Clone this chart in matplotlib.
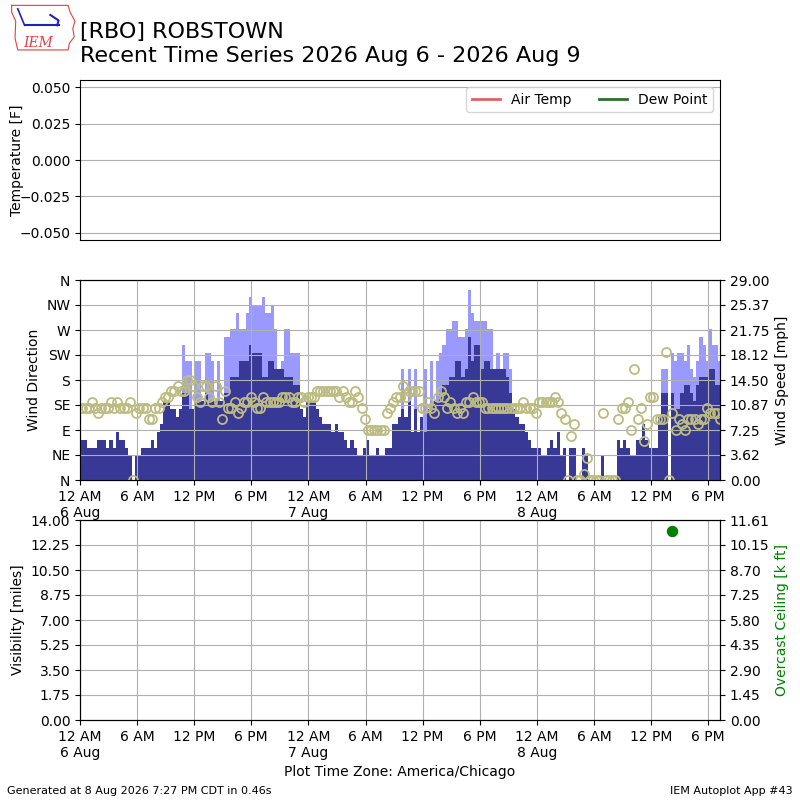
import matplotlib
matplotlib.use("Agg")
import matplotlib.pyplot as plt
import matplotlib.dates as mdates
from matplotlib.ticker import FuncFormatter
import numpy as np
import pandas as pd

# wind obs every 20 minutes, speeds in knots (None = no gust reported)
sknt = [5, 5, 4, 4, 4, 5, 5, 5, 4, 5, 4, 6, 5, 5, 4, 3, 0, 3, 3, 4, 4, 4, 5, 4, 6, 7, 10, 10, 9, 9, 8, 9, 11, 11,
        9, 9, 10, 10, 10, 11, 10, 10, 10, 10, 10, 11, 11, 13, 13, 13, 15, 15, 15, 17, 16, 16, 16, 13, 13, 15, 15, 14, 14, 14, 13, 13, 13, 12, 12,
        9, 8, 10, 10, 10, 9, 8, 7, 7, 7, 6, 7, 6, 6, 5, 4, 5, 4, 3, 3, 4, 5, 3, 3, 4, 3, 3, 4, 4, 7, 7, 8, 9, 8, 10,
        6, 9, 6, 8, 6, 9, 9, 10, 10, 11, 12, 12, 13, 13, 15, 15, 13, 14, 18, 15, 17, 17, 14, 15, 15, 14, 14, 14, 14, 14, 13, 11, 9, 8, 7,
        7, 6, 5, 4, 4, 4, 3, 3, 4, 5, 4, 6, 3, 4, 0, 4, 4, 0, 0, 4, 3, 0, 0, 0, 0, 3, 0, 0, 0, 0, 5, 4, 5, 4,
        3, 3, 5, 5, 7, 5, 4, 4, 4, 8, 11, 11, 0, 11, 9, 9, 11, 12, 12, 11, 10, 12, 13, 13, 13, 14, 14, 12, 12]

N = None
gust = [N] * 32 + [17, 15,
        15, N, 15, 15, N, 16, 16, 15, N, 15, N, 18, 18, 19, 19, 21, 19, 19, 21, 23, 22, 22, 22, 23, 21, 21, 22, 19, N, 15, 19, 19, 16, 16, 16,
        N, N, N, N, N, N, N, N, N, N, N, N, N, N, N, N, N, N, N, N, N, N, N, N, N, N, N, N, N, N, N, N, 14, N, 14,
        N, 14, N, N, 14, N, 15, N, 15, 16, 17, 19, 19, 20, 20, 18, 18, 19, 24, 21, 20, 20, 20, 20, 19, 19, N, 16, N, 16, 16, 14, N, N, N] + \
       [N] * 44 + [14, 14, N, 16, 15, 16, 16, 15, 17, 14, 13, 15, 18, 17, 15, 19, 17, 17, 15]

drct = [130, 130, 130, 140, 130, 120, 130, 130, 130, 140, 130, 140, 130, 130, 130, 140, 0, 120, 130, 130, 130, 110, 110, 130, 130, 140, 150, 150, 160, 160, 170, 160, 160, 180,
        180, 170, 150, 140, 170, 170, 150, 140, 170, 140, 110, 160, 130, 130, 140, 120, 130, 140, 140, 150, 140, 130, 130, 150, 140, 140, 140, 140, 140, 150, 150, 150, 140, 140, 150,
        150, 140, 150, 150, 150, 160, 160, 160, 160, 160, 160, 160, 150, 160, 150, 140, 140, 160, 150, 130, 110, 90, 90, 90, 90, 90, 90, 120, 130, 140, 150, 150, 170, 150, 160,
        160, 160, 160, 130, 130, 140, 130, 120, 150, 160, 150, 130, 140, 130, 120, 130, 120, 140, 140, 150, 140, 140, 140, 130, 130, 130, 130, 130, 130, 130, 130, 130, 130, 130, 130,
        140, 130, 130, 130, 120, 140, 140, 140, 140, 140, 150, 140, 120, 110, 0, 80, 100, 0, 0, 10, 40, 0, 0, 0, 0, 120, 0, 0, 0, 0, 110, 130, 130, 140,
        90, 200, 110, 130, 70, 100, 150, 150, 110, 110, 110, 230, 0, 120, 90, 110, 100, 90, 110, 110, 110, 100, 110, 110, 130, 120, 120, 120, 110]

valid = pd.date_range("2026-08-06 00:15", periods=len(sknt), freq="20min")

# overcast ceiling obs
ceil_valid = pd.to_datetime(["2026-08-08 14:15"])
ceil_kft = [11.0]

speed_ticks = ["0.00", "3.62", "7.25", "10.87", "14.50", "18.12", "21.75", "25.37", "29.00"]
ceil_ticks = ["0.00", "1.45", "2.90", "4.35", "5.80", "7.25", "8.70", "10.15", "11.61"]
dir_ticks = ["N", "NE", "E", "SE", "S", "SW", "W", "NW", "N"]

KT2MPH = 1.15078
x = mdates.date2num(valid.to_pydatetime())
smph = np.array(sknt, dtype=float) * KT2MPH
gmph = np.array([np.nan if g is None else g for g in gust], dtype=float) * KT2MPH
has_g = ~np.isnan(gmph)
width = 20 / 1440.

def fmt_time(val, pos):
    d = mdates.num2date(val)
    h = d.hour
    if h == 0:
        return "12 AM\n%d %s" % (d.day, d.strftime("%b"))
    if h == 12:
        return "12 PM"
    return "%d %s" % (h % 12, "AM" if h < 12 else "PM")

x0 = mdates.date2num(pd.Timestamp("2026-08-06 00:00").to_pydatetime())
x1 = x[-1]

fig = plt.figure(figsize=(8, 8), dpi=100)

# temperature panel (no data)
ax1 = fig.add_axes([0.1, 0.7, 0.8, 0.2])
ax1.plot([], [], color="#e0606a", lw=2, label="Air Temp")
ax1.plot([], [], color="#306e30", lw=2, label="Dew Point")
ax1.set_xlim(x0, x1)
ax1.set_ylim(-0.055, 0.055)
ax1.set_yticks([-0.05, -0.025, 0, 0.025, 0.05])
ax1.tick_params(axis="x", bottom=False, labelbottom=False)
ax1.grid(True, axis="y")
ax1.set_ylabel("Temperature [F]")
ax1.yaxis.set_label_coords(-0.088, 0.5)
ax1.legend(loc="upper right", ncol=2)

# wind panel
ax2 = fig.add_axes([0.1, 0.4, 0.8, 0.25])
ax2.bar(x[has_g], gmph[has_g], width=width, color="#9999ff", lw=0, antialiased=False)
ax2.bar(x, smph, width=width, color="#383896", lw=0, antialiased=False)
ax2.set_ylim(0, 29)
ax2.set_axisbelow(False)
ax2.grid(True)
axd = ax2.twinx()
axd.plot(x, drct, ls="none", marker="o", ms=6.5, mfc="none", mec="#bcbc80", mew=1.3)
axd.set_ylim(0, 360)
axd.set_yticks(np.arange(0, 361, 45))
axd.set_yticklabels(dir_ticks)
axd.yaxis.tick_left()
axd.yaxis.set_label_position("left")
axd.set_ylabel("Wind Direction")
ax2.set_yticks(np.linspace(0, 29, 9))
ax2.set_yticklabels(speed_ticks)
ax2.yaxis.tick_right()
ax2.yaxis.set_label_position("right")
ax2.set_ylabel("Wind Speed [mph]")
ax2.set_xlim(x0, x1)
ax2.xaxis.set_major_locator(mdates.HourLocator(byhour=[0, 6, 12, 18]))
ax2.xaxis.set_major_formatter(FuncFormatter(fmt_time))

# visibility / ceiling panel
ax3 = fig.add_axes([0.1, 0.1, 0.8, 0.25])
ax3.set_xlim(x0, x1)
ax3.set_ylim(0, 14)
ax3.set_yticks(np.arange(0, 14.01, 1.75))
ax3.set_yticklabels(["%.2f" % v for v in np.arange(0, 14.01, 1.75)])
ax3.set_ylabel("Visibility [miles]")
ax3.grid(True)
ax3.xaxis.set_major_locator(mdates.HourLocator(byhour=[0, 6, 12, 18]))
ax3.xaxis.set_major_formatter(FuncFormatter(fmt_time))
ax3.set_xlabel("Plot Time Zone: America/Chicago")
ax3b = ax3.twinx()
ax3b.scatter(mdates.date2num(ceil_valid.to_pydatetime()), ceil_kft, color="green", s=52, zorder=5)
ax3b.set_ylim(0, 11.61)
ax3b.set_yticks(np.linspace(0, 11.61, 9))
ax3b.set_yticklabels(ceil_ticks)
ax3b.set_ylabel("Overcast Ceiling [k ft]", color="green")
ax3b.set_xlim(x0, x1)

# title and footer
fig.text(0.1, 0.973, "[RBO] ROBSTOWN\nRecent Time Series 2026 Aug 6 - 2026 Aug 9",
         fontsize=16, va="top", ha="left", linespacing=1.25)
fig.text(0.009, 0.008, "Generated at 8 Aug 2026 7:27 PM CDT in 0.46s", fontsize=8)
fig.text(0.991, 0.008, "IEM Autoplot App #43", fontsize=8, ha="right")

# small IEM logo
logo = fig.add_axes([0.012, 0.935, 0.085, 0.06])
logo.set_xlim(0, 10)
logo.set_ylim(0, 7)
logo.axis("off")
logo.plot([0.3, 8.6, 8.9, 9.6, 9.3, 9.5, 8.8, 8.6, 1.2, 0.8, 0.9, 0.3, 0.3],
          [6.8, 6.8, 5.8, 4.5, 3.4, 2.2, 1.3, 0.3, 0.3, 2.0, 4.5, 5.8, 6.8],
          color="#e04040", lw=0.8)
logo.plot([2.2, 7.2], [3.9, 3.9], color="#2020c0", lw=1.5)
logo.plot([2.2, 1.2], [3.9, 6.3], color="#2020c0", lw=1.2)
logo.plot([6.0, 7.2, 7.0], [5.4, 4.6, 3.9], color="#2020c0", lw=1.5)
logo.text(4.2, 0.8, "IEM", color="#e04040", fontsize=10, family="serif",
          style="italic", ha="center")

fig.savefig("out.png", dpi=100)
